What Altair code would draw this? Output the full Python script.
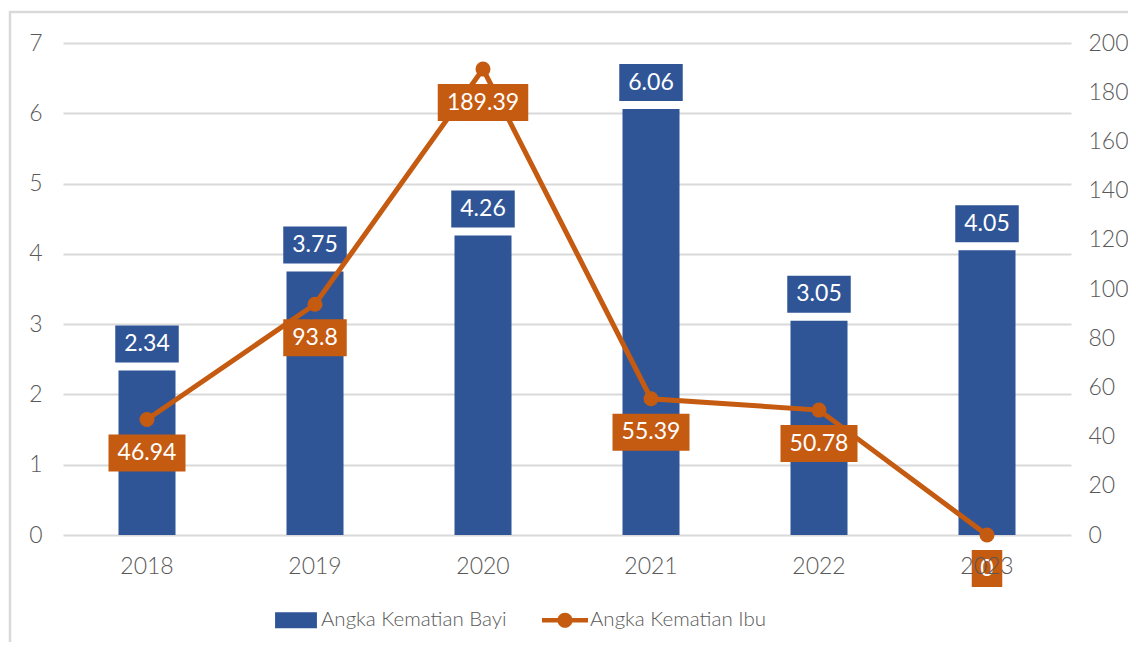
import altair as alt
import pandas as pd

# ---- data ----
YEARS = ["2018", "2019", "2020", "2021", "2022", "2023"]
BAYI = [2.34, 3.75, 4.26, 6.06, 3.05, 4.05]
IBU = [46.94, 93.8, 189.39, 55.39, 50.78, 0]
BAYI_LABELS = ["2.34", "3.75", "4.26", "6.06", "3.05", "4.05"]
IBU_LABELS = ["46.94", "93.8", "189.39", "55.39", "50.78", "0"]
SERIES = ["Angka Kematian Bayi", "Angka Kematian Ibu"]
LEFT_TICKS = [0, 1, 2, 3, 4, 5, 6, 7]
RIGHT_TICKS = [0, 20, 40, 60, 80, 100, 120, 140, 160, 180, 200]

# ---- style ----
BLUE = "#2F5597"
ORANGE = "#C55A11"
GRID = "#D9D9D9"
TEXT = "#595959"
FONT = "Lato"
FS = 23

RECT_PATH = "M-0.91,-0.35H0.91V0.35H-0.91Z"
LINE_PATH = ("M-1,-0.1H1V0.1H-1Z "
             "M-0.33,0A0.33,0.33 0 1,1 0.33,0A0.33,0.33 0 1,1 -0.33,0Z")


def box_width(s):
    digits = sum(ch.isdigit() for ch in s)
    dots = s.count(".")
    return 13.5 * digits + 6 * dots + 17


df = pd.DataFrame({
    "year": YEARS, "bayi": BAYI, "ibu": IBU,
    "bayi_label": BAYI_LABELS, "ibu_label": IBU_LABELS,
})
df["series"] = SERIES[0]

legend = alt.Legend(
    orient="none", legendX=210, legendY=554, direction="horizontal",
    title=None, padding=0, symbolSize=2116, symbolStrokeWidth=0,
    labelFont=FONT, labelFontSize=20.5, labelColor=TEXT, labelFontWeight=300,
    labelOffset=2, columnPadding=35, symbolOpacity=1, labelLimit=400,
)
color_scale = alt.Scale(domain=SERIES, range=[BLUE, ORANGE])

X = alt.X(
    "year:N", sort=YEARS, title=None,
    scale=alt.Scale(paddingInner=0.66, paddingOuter=0.33),
    axis=alt.Axis(labelAngle=0, domain=False, ticks=False, labelPadding=20,
                  labelFontSize=FS, labelColor=TEXT, labelFont=FONT,
                  labelFontWeight=300, zindex=1),
)
YL = alt.Y(
    "bayi:Q", title=None, scale=alt.Scale(domain=[0, 7], nice=False),
    axis=alt.Axis(values=LEFT_TICKS, grid=True, gridColor=GRID, gridWidth=2,
                  domain=False, ticks=False, labelPadding=21, labelFontSize=FS,
                  labelColor=TEXT, labelFont=FONT, labelFontWeight=300),
)
YR = alt.Y(
    "ibu:Q", title=None, scale=alt.Scale(domain=[0, 200], nice=False),
    axis=alt.Axis(orient="right", values=RIGHT_TICKS, grid=False, domain=False,
                  ticks=False, labelPadding=17, labelFontSize=FS,
                  labelColor=TEXT, labelFont=FONT, labelFontWeight=300),
)

base = alt.Chart(df)

# frame around the whole chart (decorative)
frame = alt.Chart(pd.DataFrame({"k": [0]})).mark_rect(
    fillOpacity=0, stroke=GRID, strokeWidth=2.5
).encode(x=alt.value(-53), x2=alt.value(1300), y=alt.value(-31), y2=alt.value(800))

bars = base.mark_bar(size=57).encode(
    x=X, y=YL, color=alt.Color("series:N", scale=color_scale, legend=legend)
)

bw = box_width(BAYI_LABELS[0])
bar_boxes = base.mark_rect(color=BLUE, xOffset=-bw / 2, x2Offset=bw / 2,
                           yOffset=-45, y2Offset=-8).encode(
    x=X, x2=alt.X2("year:N"), y=YL, y2=alt.Y2("bayi:Q")
)
bar_text = base.mark_text(color="white", font=FONT, fontSize=FS,
                          baseline="middle", dy=-26.5).encode(
    x=X, y=YL, text="bayi_label:N"
)
left = alt.layer(bars, bar_boxes, bar_text)

line = base.mark_line(color=ORANGE, strokeWidth=5).encode(x=X, y=YR)
points = base.mark_circle(color=ORANGE, size=225, opacity=1).encode(x=X, y=YR)

groups = {}
for yr, lab in zip(YEARS, IBU_LABELS):
    groups.setdefault(box_width(lab), []).append(yr)

line_boxes = []
for w, yrs in groups.items():
    line_boxes.append(
        base.transform_filter(alt.FieldOneOfPredicate(field="year", oneOf=yrs))
        .mark_rect(color=ORANGE, xOffset=-w / 2, x2Offset=w / 2,
                   yOffset=15, y2Offset=52)
        .encode(x=X, x2=alt.X2("year:N"), y=YR, y2=alt.Y2("ibu:Q"))
    )
line_text = base.mark_text(color="white", font=FONT, fontSize=FS,
                           baseline="middle", dy=33.5).encode(
    x=X, y=YR, text="ibu_label:N"
)
right = alt.layer(line, points, *line_boxes, line_text)

legend_layer = alt.Chart(pd.DataFrame({"series": SERIES})).transform_filter(
    "false"
).mark_point(filled=True).encode(
    color=alt.Color("series:N", scale=color_scale, legend=legend),
    shape=alt.Shape("series:N",
                    scale=alt.Scale(domain=SERIES, range=[RECT_PATH, LINE_PATH]),
                    legend=legend),
)

chart = alt.layer(frame, left, right, legend_layer).resolve_scale(
    y="independent"
).properties(
    width=1008, height=492,
    padding={"left": 55, "top": 35, "right": 57, "bottom": 107},
    autosize=alt.AutoSizeParams(type="none"),
).configure_view(stroke=None)

chart.save("out.html", embed_options={"renderer": "svg", "actions": False})
